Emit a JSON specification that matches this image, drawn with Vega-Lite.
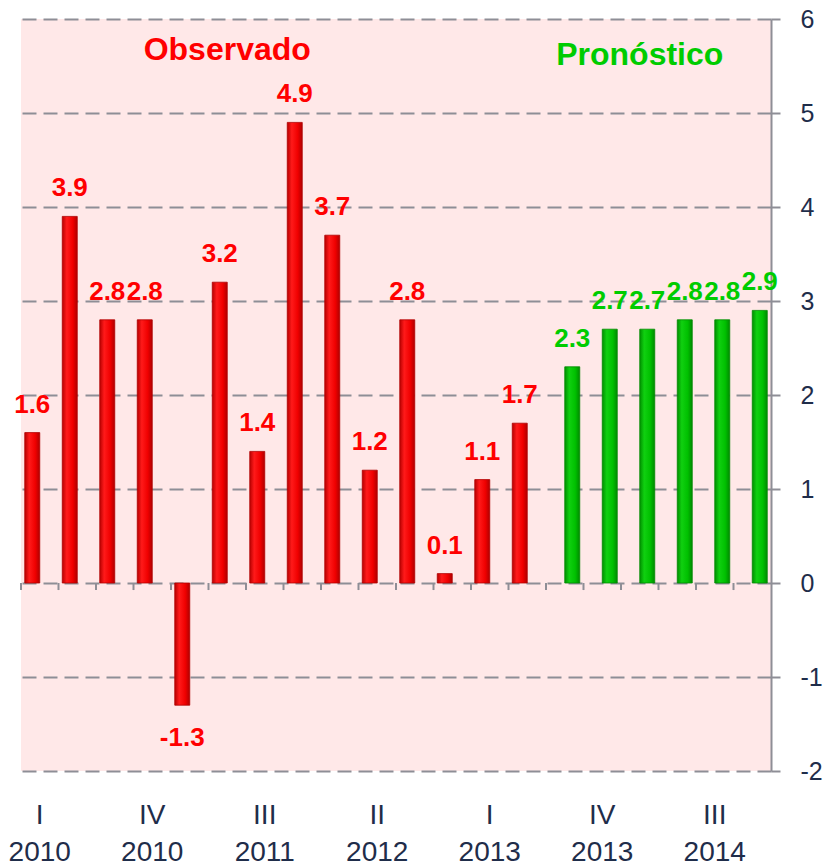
{
  "$schema": "https://vega.github.io/schema/vega-lite/v6.json",
  "width": 750,
  "height": 752,
  "autosize": {"type": "none"},
  "padding": {"left": 21, "top": 19, "right": 57, "bottom": 94},
  "background": "white",
  "config": {
    "view": {"fill": "#FFE8E8", "stroke": null},
    "font": "Liberation Sans"
  },
  "datasets": {
    "bars": [
      {"q": "I 2010", "serie": "Observado", "v": 1.6},
      {"q": "II 2010", "serie": "Observado", "v": 3.9},
      {"q": "III 2010", "serie": "Observado", "v": 2.8},
      {"q": "IV 2010", "serie": "Observado", "v": 2.8},
      {"q": "I 2011", "serie": "Observado", "v": -1.3},
      {"q": "II 2011", "serie": "Observado", "v": 3.2},
      {"q": "III 2011", "serie": "Observado", "v": 1.4},
      {"q": "IV 2011", "serie": "Observado", "v": 4.9},
      {"q": "I 2012", "serie": "Observado", "v": 3.7},
      {"q": "II 2012", "serie": "Observado", "v": 1.2},
      {"q": "III 2012", "serie": "Observado", "v": 2.8},
      {"q": "IV 2012", "serie": "Observado", "v": 0.1},
      {"q": "I 2013", "serie": "Observado", "v": 1.1},
      {"q": "II 2013", "serie": "Observado", "v": 1.7},
      {"q": "III 2013", "serie": "Pronóstico", "v": 2.3},
      {"q": "IV 2013", "serie": "Pronóstico", "v": 2.7},
      {"q": "I 2014", "serie": "Pronóstico", "v": 2.7},
      {"q": "II 2014", "serie": "Pronóstico", "v": 2.8},
      {"q": "III 2014", "serie": "Pronóstico", "v": 2.8},
      {"q": "IV 2014", "serie": "Pronóstico", "v": 2.9}
    ],
    "titles": [
      {"q": "II 2011", "serie": "Observado", "y": 5.67, "t": "Observado"},
      {"q": "I 2014", "serie": "Pronóstico", "y": 5.62, "t": "Pronóstico"}
    ]
  },
  "data": {"name": "bars"},
  "encoding": {
    "x": {
      "field": "q",
      "type": "nominal",
      "sort": null,
      "scale": {"paddingInner": 0, "paddingOuter": 0},
      "axis": {
        "orient": "bottom",
        "title": null,
        "domain": false,
        "ticks": false,
        "grid": false,
        "labelAngle": 0,
        "labelOverlap": false,
        "labelFontSize": 28,
        "labelColor": "#1F2D4A",
        "labelBaseline": "top",
        "labelPadding": 30,
        "labelLineHeight": 37,
        "labelExpr": "indexof(['I 2010','IV 2010','III 2011','II 2012','I 2013','IV 2013','III 2014'], datum.value) >= 0 ? split(datum.value, ' ') : ''"
      }
    }
  },
  "layer": [
    {
      "mark": {"type": "rule", "color": "#8E8E96", "strokeWidth": 2},
      "encoding": {
        "x": {"field": "q", "type": "nominal", "sort": null, "bandPosition": 0},
        "y": {"datum": 0, "type": "quantitative"},
        "y2": {"datum": -0.075}
      }
    },
    {
      "mark": {
        "type": "bar",
        "stroke": "#B00000",
        "strokeWidth": 0.8,
        "fill": {
          "gradient": "linear", "x1": 0, "x2": 1, "y1": 0, "y2": 0,
          "stops": [
            {"offset": 0, "color": "#B80000"},
            {"offset": 0.3, "color": "#FF1A1A"},
            {"offset": 0.7, "color": "#F00000"},
            {"offset": 1, "color": "#B00000"}
          ]
        }
      },
      "transform": [{"filter": "datum.serie == 'Observado'"}],
      "encoding": {
        "xOffset": {"field": "serie", "type": "nominal", "scale": {"domain": ["Observado", "Pronóstico"], "paddingInner": 0, "paddingOuter": 0.25}},
        "y": {
          "field": "v",
          "type": "quantitative",
          "scale": {"domain": [-2, 6], "nice": false},
          "axis": {
            "orient": "right",
            "title": null,
            "values": [-2, -1, 0, 1, 2, 3, 4, 5, 6],
            "labelExpr": "'' + datum.value",
            "domain": true,
            "domainColor": "#8E8E96",
            "domainWidth": 2,
            "ticks": true,
            "tickColor": "#8E8E96",
            "tickWidth": 2,
            "tickSize": 9,
            "grid": true,
            "gridColor": "#8E8E96",
            "gridWidth": 2,
            "gridDash": [14, 7],
            "labelFontSize": 25,
            "labelColor": "#1F2D4A",
            "labelPadding": 20
          }
        }
      }
    },
    {
      "mark": {
        "type": "bar",
        "stroke": "#008A00",
        "strokeWidth": 0.8,
        "fill": {
          "gradient": "linear", "x1": 0, "x2": 1, "y1": 0, "y2": 0,
          "stops": [
            {"offset": 0, "color": "#008F00"},
            {"offset": 0.3, "color": "#10D010"},
            {"offset": 0.7, "color": "#00C000"},
            {"offset": 1, "color": "#008A00"}
          ]
        }
      },
      "transform": [{"filter": "datum.serie == 'Pronóstico'"}],
      "encoding": {
        "xOffset": {"field": "serie", "type": "nominal"},
        "y": {"field": "v", "type": "quantitative"}
      }
    },
    {
      "mark": {"type": "rule", "color": "#8E8E96", "strokeWidth": 2},
      "encoding": {"y": {"datum": 0, "type": "quantitative"}}
    },
    {
      "mark": {"type": "text", "fontSize": 26, "fontWeight": "bold", "baseline": "alphabetic", "dy": -20},
      "transform": [{"filter": "datum.v >= 0"}],
      "encoding": {
        "xOffset": {"field": "serie", "type": "nominal"},
        "y": {"field": "v", "type": "quantitative"},
        "text": {"field": "v", "type": "nominal"},
        "color": {"field": "serie", "type": "nominal", "scale": {"domain": ["Observado", "Pronóstico"], "range": ["#FF0000", "#00CC00"]}, "legend": null}
      }
    },
    {
      "mark": {"type": "text", "fontSize": 26, "fontWeight": "bold", "baseline": "top", "dy": 20},
      "transform": [{"filter": "datum.v < 0"}],
      "encoding": {
        "xOffset": {"field": "serie", "type": "nominal"},
        "y": {"field": "v", "type": "quantitative"},
        "text": {"field": "v", "type": "nominal"},
        "color": {"field": "serie", "type": "nominal", "legend": null}
      }
    },
    {
      "data": {"name": "titles"},
      "mark": {"type": "text", "fontSize": 32, "fontWeight": "bold", "baseline": "middle"},
      "encoding": {
        "y": {"field": "y", "type": "quantitative"},
        "text": {"field": "t"},
        "color": {"field": "serie", "type": "nominal", "legend": null}
      }
    }
  ]
}
